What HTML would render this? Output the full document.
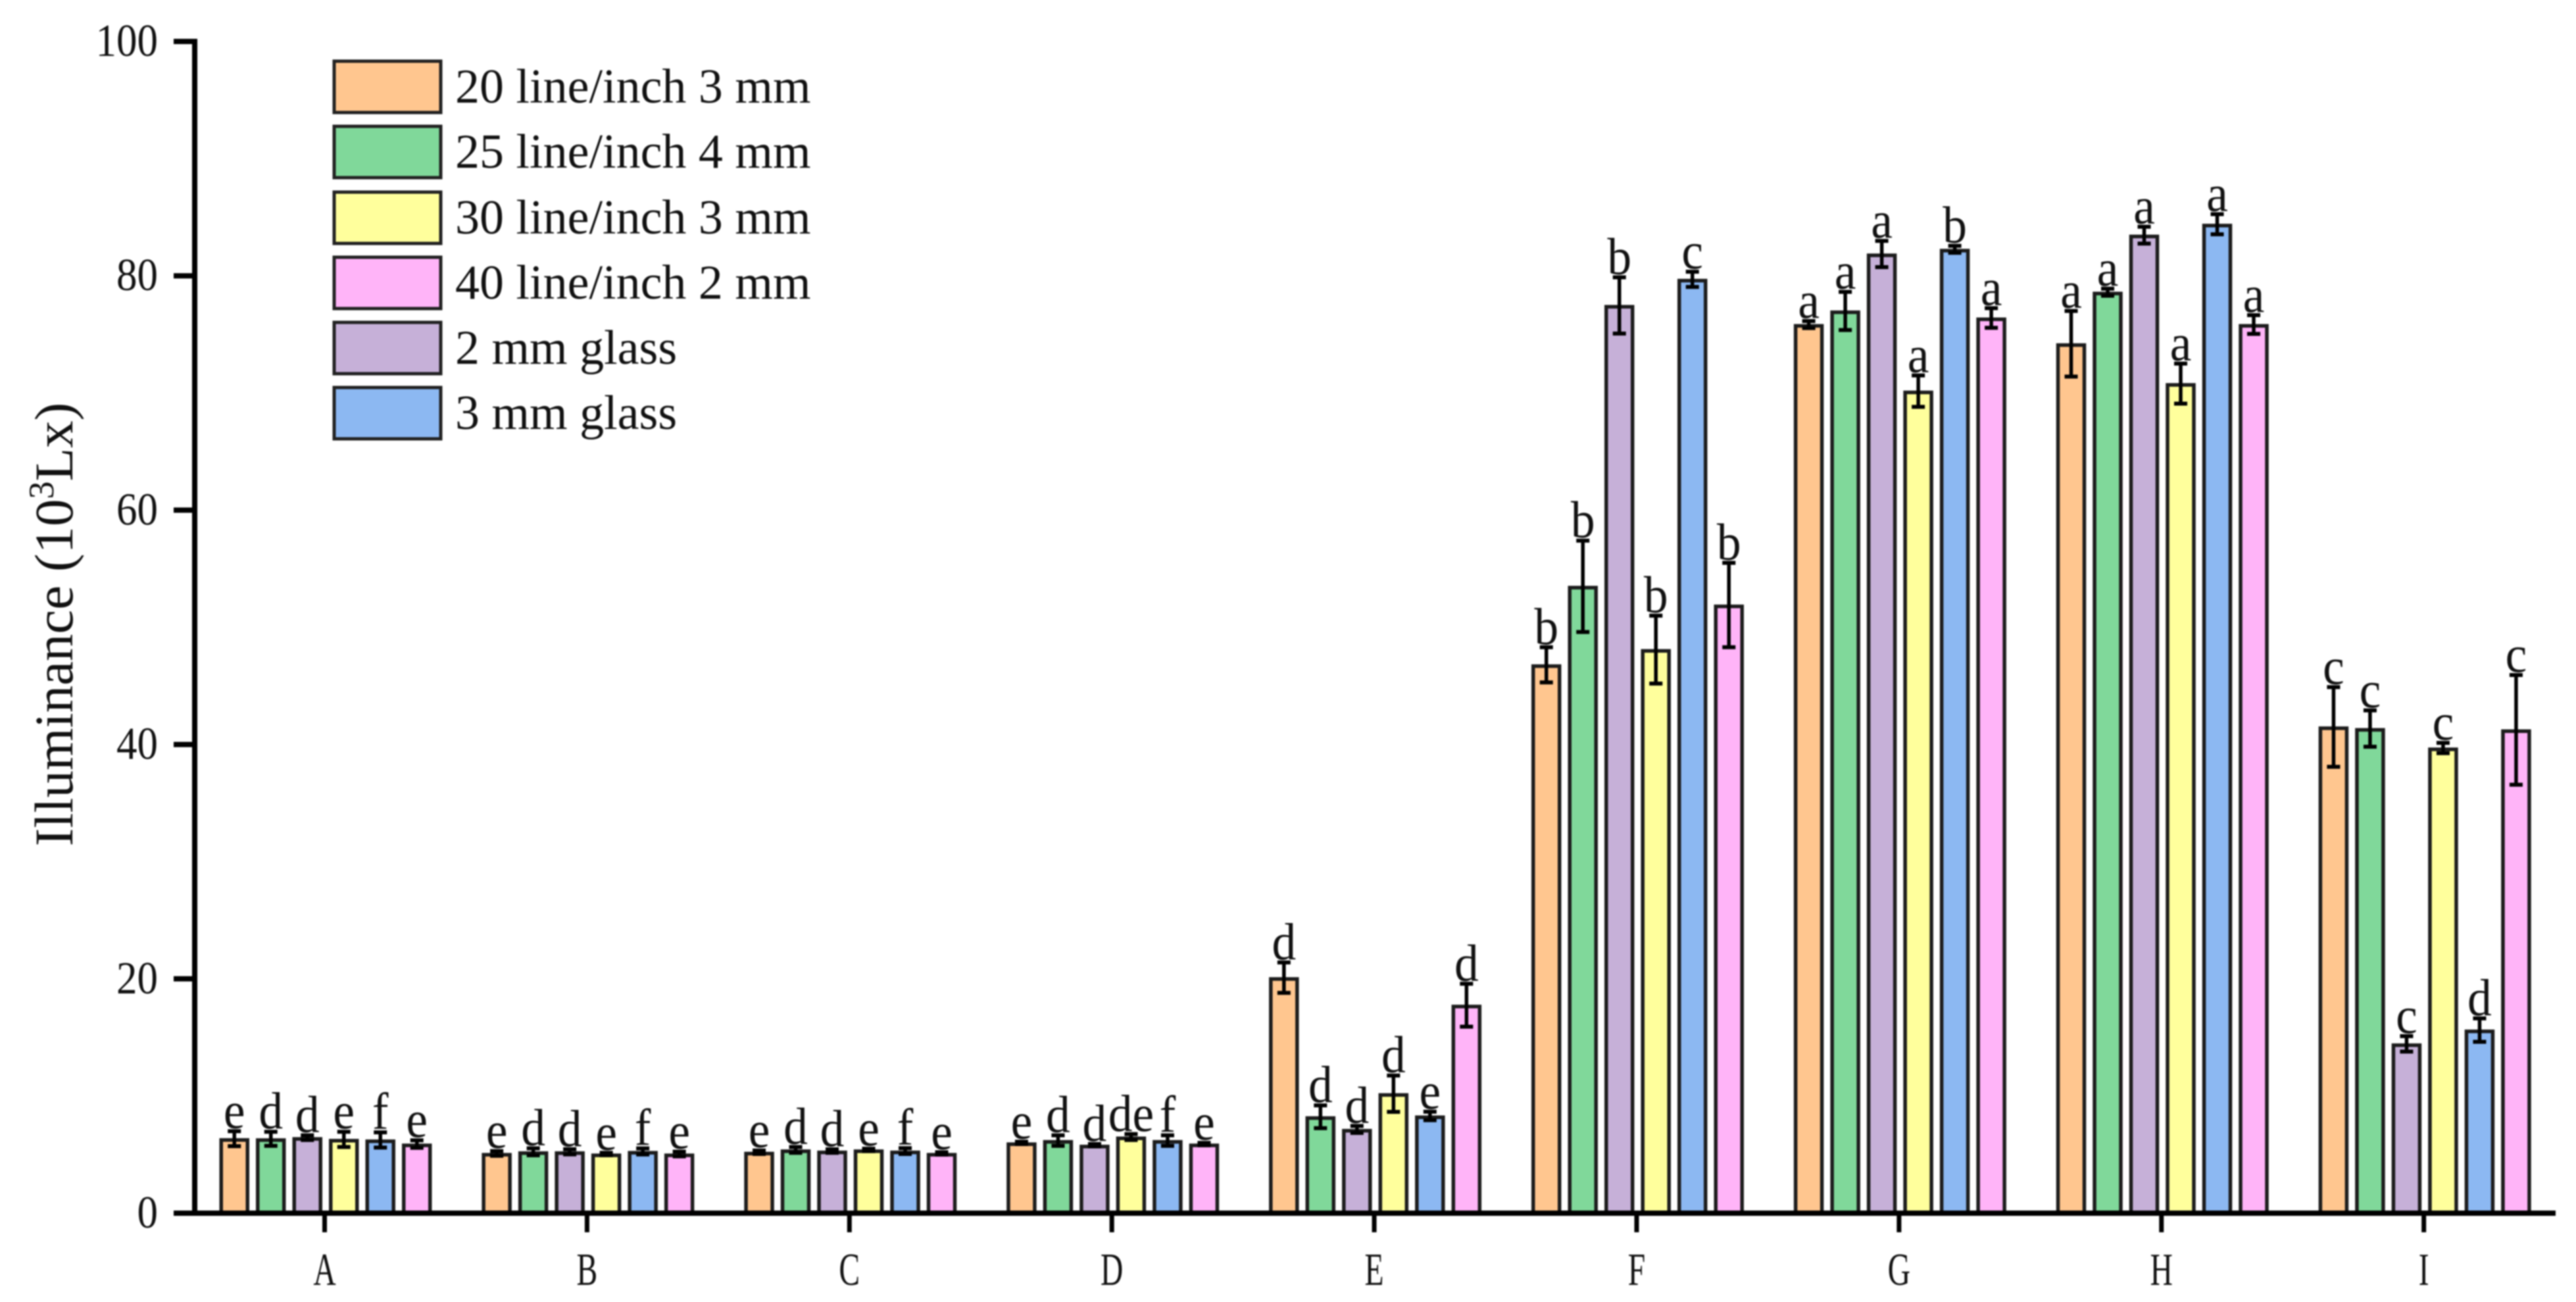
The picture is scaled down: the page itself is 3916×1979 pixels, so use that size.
<!DOCTYPE html>
<html lang="en">
<head>
<meta charset="utf-8">
<title>Illuminance bar chart</title>
<style>
html,body{margin:0;padding:0;background:#fff;width:3916px;height:1979px;overflow:hidden}
svg{display:block;filter:blur(1px)}
text{font-family:"Liberation Serif",serif;fill:#111}
</style>
</head>
<body>
<svg id="chart" xmlns="http://www.w3.org/2000/svg" width="3916" height="1979" viewBox="0 0 3916 1979">
  <rect x="0" y="0" width="3916" height="1979" fill="#fff"/>
  <g id="bars"></g>
  <g id="axes"></g>
  <g id="letters"></g>
  <text transform="translate(110,949) rotate(-90)" text-anchor="middle" font-size="83">Illuminance (10<tspan dy="-29" font-size="54">3</tspan><tspan dy="29">Lx)</tspan></text>
  <g font-size="74">
    <g>
      <rect x="508" y="93" width="162" height="78" fill="#FFC68F" stroke="#222" stroke-width="5"/>
      <text x="692" y="156">20 line/inch 3 mm</text>
    </g>
    <g>
      <rect x="508" y="192" width="162" height="78" fill="#80D89A" stroke="#222" stroke-width="5"/>
      <text x="692" y="255">25 line/inch 4 mm</text>
    </g>
    <g>
      <rect x="508" y="292" width="162" height="78" fill="#FFFF9C" stroke="#222" stroke-width="5"/>
      <text x="692" y="355">30 line/inch 3 mm</text>
    </g>
    <g>
      <rect x="508" y="391" width="162" height="78" fill="#FFB4F8" stroke="#222" stroke-width="5"/>
      <text x="692" y="454">40 line/inch 2 mm</text>
    </g>
    <g>
      <rect x="508" y="490" width="162" height="78" fill="#C6B0D8" stroke="#222" stroke-width="5"/>
      <text x="692" y="553">2 mm glass</text>
    </g>
    <g>
      <rect x="508" y="589" width="162" height="78" fill="#8CB8F2" stroke="#222" stroke-width="5"/>
      <text x="692" y="652">3 mm glass</text>
    </g>
  </g>
</svg>
<script>
const categories = ["A","B","C","D","E","F","G","H","I"];
const yTicks = [0,20,40,60,80,100];
const seriesNames = ["20-line-3-mm","25-line-4-mm","2-mm-glass","30-line-3-mm","3-mm-glass","40-line-2-mm"];
const seriesColors = ["#FFC68F","#80D89A","#C6B0D8","#FFFF9C","#8CB8F2","#FFB4F8"];

const values20Line3mm = [6.36,5.1,5.2,6.0,20.1,46.8,75.84,74.2,41.5];
const values25Line4mm = [6.35,5.24,5.4,6.2,8.23,53.5,77.0,78.6,41.36];
const valuesGlass2mm = [6.45,5.24,5.3,5.8,7.15,77.47,81.86,83.47,14.45];
const values30Line3mm = [6.3,5.05,5.4,6.5,10.2,48.1,70.16,70.8,39.7];
const valuesGlass3mm = [6.25,5.27,5.3,6.2,8.3,79.7,82.26,84.4,15.63];
const values40Line2mm = [5.9,5.05,5.1,5.9,17.75,51.9,76.4,75.84,41.25];

const errors20Line3mm = [0.64,0.2,0.15,0.1,1.3,1.5,0.3,2.8,3.4];
const errors25Line4mm = [0.6,0.3,0.25,0.45,0.97,3.9,1.63,0.3,1.55];
const errorsGlass2mm = [0.2,0.22,0.15,0.1,0.3,2.4,1.12,0.72,0.66];
const errors30Line3mm = [0.65,0.1,0.1,0.25,1.55,2.9,1.34,1.71,0.44];
const errorsGlass3mm = [0.65,0.26,0.25,0.45,0.36,0.65,0.3,0.86,1.0];
const errors40Line2mm = [0.32,0.2,0.1,0.1,1.83,3.6,0.84,0.8,4.68];

const letters20Line3mm = ["e","e","e","e","d","b","a","a","c"];
const letters25Line4mm = ["d","d","d","d","d","b","a","a","c"];
const lettersGlass2mm = ["d","d","d","d","d","b","a","a","c"];
const letters30Line3mm = ["e","e","e","de","d","b","a","a","c"];
const lettersGlass3mm = ["f","f","f","f","e","c","b","a","d"];
const letters40Line2mm = ["e","e","e","e","d","b","a","a","c"];

const allValues = [values20Line3mm,values25Line4mm,valuesGlass2mm,values30Line3mm,valuesGlass3mm,values40Line2mm];
const allErrors = [errors20Line3mm,errors25Line4mm,errorsGlass2mm,errors30Line3mm,errorsGlass3mm,errors40Line2mm];
const allLetters = [letters20Line3mm,letters25Line4mm,lettersGlass2mm,letters30Line3mm,lettersGlass3mm,letters40Line2mm];

const NS = "http://www.w3.org/2000/svg";
const Y0 = 1844, PX_PER_UNIT = 17.81;
const X_FIRST = 493.5, X_STEP = 398.9, BAR_STEP = 55.5, BAR_W = 40;
function yScale(v){ return Y0 - v * PX_PER_UNIT; }
function xScale(i){ return X_FIRST + i * X_STEP; }
function barCenter(cat, s){ return xScale(cat) + 1.5 + (s - 2.5) * BAR_STEP; }
function make(tag, attrs, parent){
  const el = document.createElementNS(NS, tag);
  for (const k in attrs) el.setAttribute(k, attrs[k]);
  parent.appendChild(el);
  return el;
}
const barsG = document.getElementById("bars");
const axesG = document.getElementById("axes");
const lettersG = document.getElementById("letters");

categories.forEach(function(cat, c){
  allValues.forEach(function(series, s){
    const cx = barCenter(c, s);
    const v = series[c], e = allErrors[s][c];
    const bar = make("rect", {x:cx-BAR_W/2, y:yScale(v)+2, width:BAR_W, height:Y0-yScale(v)-2, fill:seriesColors[s], stroke:"#1c1c1c", "stroke-width":5.5}, barsG);
    
    

    const stem = make("line", {x1:cx, x2:cx, y1:yScale(v+e), y2:yScale(v-e), stroke:"#000", "stroke-width":5.5}, barsG);
    
    
    const capTop = make("line", {x1:cx-10, x2:cx+10, y1:yScale(v+e), y2:yScale(v+e), stroke:"#000", "stroke-width":6}, barsG);
    
    
    const capBottom = make("line", {x1:cx-10, x2:cx+10, y1:yScale(v-e), y2:yScale(v-e), stroke:"#000", "stroke-width":6}, barsG);
    
    

    const letter = make("text", {transform:"translate(" + cx + "," + (yScale(v+e)-5) + ") scale(.92,1)", "text-anchor":"middle", "font-size":80}, lettersG);
    letter.textContent = allLetters[s][c];
    
    
  });

  const tick = make("line", {x1:xScale(c), x2:xScale(c), y1:Y0, y2:1873, stroke:"#000", "stroke-width":7}, axesG);
  
  
  const lab = make("text", {transform:"translate(" + xScale(c) + ",1953) scale(.68,1)", "text-anchor":"middle", "font-size":70, fill:"#222"}, axesG);
  lab.textContent = cat;
  
  
});

yTicks.forEach(function(t){
  const tick = make("line", {x1:264, x2:296, y1:yScale(t), y2:yScale(t), stroke:"#000", "stroke-width":8}, axesG);
  
  
  const lab = make("text", {transform:"translate(240," + (yScale(t)+22) + ") scale(.9,1)", "text-anchor":"end", "font-size":70}, axesG);
  lab.textContent = t;
  
  
});

const yAxis = make("line", {x1:296, x2:296, y1:yScale(100)-4, y2:Y0+4, stroke:"#000", "stroke-width":8}, axesG);


const xAxis = make("line", {x1:264, x2:3885, y1:Y0, y2:Y0, stroke:"#000", "stroke-width":8}, axesG);


</script>
</body>
</html>
